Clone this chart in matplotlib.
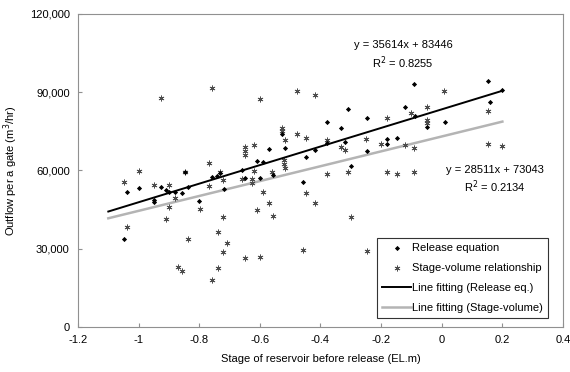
import matplotlib
matplotlib.use("Agg")
import matplotlib.pyplot as plt
from matplotlib.ticker import FuncFormatter, MultipleLocator

plt.rcParams['font.family'] = ['Liberation Sans', 'DejaVu Sans']
plt.rcParams['axes.unicode_minus'] = False

# Release equation results: stage (EL.m) and outflow (m3/hr)
release_stage = [-1.048, -1.039, -0.998, -0.927, -0.910, -0.899, -0.948, -0.948, -0.880, -0.858,
                 -0.836, -0.847, -0.800, -0.757, -0.740, -0.730, -0.719, -0.660, -0.649, -0.609,
                 -0.591, -0.600, -0.569, -0.558, -0.528, -0.517, -0.448, -0.459, -0.419, -0.380,
                 -0.380, -0.331, -0.320, -0.309, -0.301, -0.248, -0.248, -0.180, -0.180, -0.149,
                 -0.120, -0.091, -0.089, -0.050, 0.010, 0.151, 0.158, 0.200]
release_flow = [33620, 51640, 53180, 53800, 52530, 51880, 48690, 47810, 51880, 51260,
                53560, 59540, 48420, 57600, 57800, 59000, 52910, 60190, 57010, 63640,
                63150, 57010, 68250, 58300, 74000, 68500, 65300, 55400, 67860, 78480,
                70430, 76420, 71050, 83580, 61840, 80240, 67480, 72080, 70050, 72350,
                84470, 93170, 80900, 76560, 78720, 94320, 86380, 91000]

# Stage-volume relationship results
sv_stage = [-1.048, -1.039, -0.998, -0.948, -0.899, -0.926, -0.880, -0.899, -0.910, -0.869,
            -0.858, -0.838, -0.847, -0.798, -0.759, -0.768, -0.768, -0.730, -0.721, -0.721,
            -0.739, -0.710, -0.721, -0.739, -0.759, -0.660, -0.649, -0.649, -0.649, -0.620,
            -0.619, -0.627, -0.627, -0.598, -0.589, -0.609, -0.569, -0.558, -0.649, -0.600,
            -0.560, -0.528, -0.528, -0.517, -0.520, -0.520, -0.517, -0.479, -0.479, -0.448,
            -0.419, -0.457, -0.448, -0.419, -0.380, -0.331, -0.320, -0.380, -0.309, -0.300,
            -0.250, -0.248, -0.199, -0.182, -0.120, -0.091, -0.181, -0.149, -0.091, -0.102,
            -0.050, -0.050, -0.050, 0.008, 0.151, 0.151, 0.200]
sv_flow = [55400, 38300, 59810, 54500, 54500, 87900, 49340, 46120, 41400, 23120,
           21590, 33740, 59540, 45240, 91800, 62900, 54200, 59500, 56300, 42290,
           36540, 32320, 28870, 22510, 18020, 56740, 69100, 67300, 65900, 69780,
           59810, 56630, 55100, 87500, 51880, 44860, 47430, 42560, 26340, 26970,
           59600, 76300, 75000, 71700, 64000, 62400, 61100, 90480, 73880, 72580,
           88950, 29520, 51500, 47430, 71700, 69130, 67860, 58540, 59310, 42290,
           71960, 29250, 70050, 80000, 69780, 68510, 59310, 58540, 59310, 81930,
           84470, 79360, 78330, 90480, 82810, 70050, 69520]

# Linear fits (slope, intercept, R^2) and the stage range they span
fit_release = (35614, 83446, 0.8255)
fit_sv = (28511, 73043, 0.2134)
fit_range = [-1.1, 0.2]

fig = plt.figure(figsize=(5.70, 3.72), dpi=100)
ax = fig.add_axes([78 / 570, 45 / 372, 485 / 570, 313 / 372])

ax.scatter(release_stage, release_flow, marker='D', s=7, color='black', linewidths=0,
           zorder=4, label='Release equation')
ax.scatter(sv_stage, sv_flow, marker=(6, 2, 0), s=14, color='#4d4d4d', linewidths=0.6,
           zorder=3, label='Stage-volume relationship')

xs = fit_range
ax.plot(xs, [fit_release[0] * x + fit_release[1] for x in xs], color='black', lw=1.4,
        zorder=5, label='Line fitting (Release eq.)')
ax.plot(xs, [fit_sv[0] * x + fit_sv[1] for x in xs], color='#b4b4b4', lw=1.8,
        zorder=2, label='Line fitting (Stage-volume)')

ax.set_xlim(-1.2, 0.4)
ax.set_ylim(0, 120000)
ax.xaxis.set_major_locator(MultipleLocator(0.2))
ax.yaxis.set_major_locator(MultipleLocator(30000))
ax.xaxis.set_major_formatter(FuncFormatter(lambda v, p: f"{v:.1f}".rstrip('0').rstrip('.') if abs(v) > 1e-9 else "0"))
ax.yaxis.set_major_formatter(FuncFormatter(lambda v, p: f"{int(round(v)):,}"))

for s in ax.spines.values():
    s.set_color('#909090')
    s.set_linewidth(0.8)
ax.tick_params(direction='in', length=3, color='#909090', labelsize=8, pad=6)

ax.set_xlabel('Stage of reservoir before release (EL.m)', fontsize=8, labelpad=6)
ax.set_ylabel('Outflow per a gate (m$^3$/hr)', fontsize=8, labelpad=7)

ax.text(-0.128, 108000, f"y = {fit_release[0]}x + {fit_release[1]}", fontsize=8, ha='center', va='center')
ax.text(-0.128, 101500, f"R$^2$ = {fit_release[2]:.4f}", fontsize=8, ha='center', va='center')
ax.text(0.175, 60300, f"y = {fit_sv[0]}x + {fit_sv[1]}", fontsize=8, ha='center', va='center')
ax.text(0.175, 53800, f"R$^2$ = {fit_sv[2]:.4f}", fontsize=8, ha='center', va='center')

leg = ax.legend(loc='lower right', bbox_to_anchor=(0.969, 0.029), borderaxespad=0,
                fontsize=8, frameon=True, fancybox=False, edgecolor='#333333',
                framealpha=1, handlelength=2.6, labelspacing=0.9, borderpad=0.45,
                handletextpad=0.1, scatterpoints=1)
leg.get_frame().set_linewidth(0.8)

fig.savefig('out.png', dpi=100)
